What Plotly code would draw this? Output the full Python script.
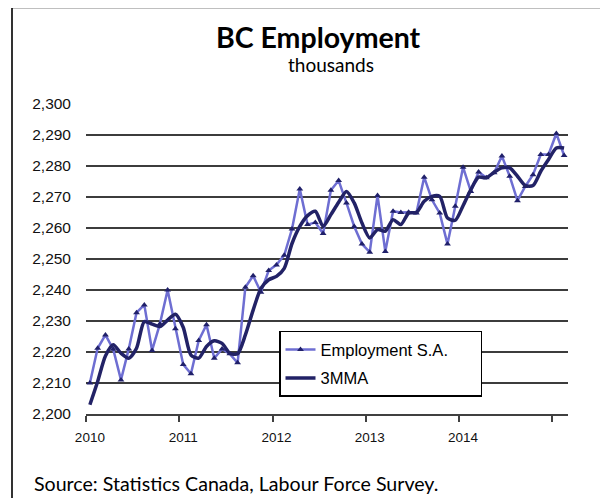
import plotly.graph_objects as go

# Monthly data, Jan 2010 - Feb 2015 (thousands)
year_labels = ["2010", "2011", "2012", "2013", "2014"]
employment = [
    2210.0, 2221.2, 2225.5, 2220.9, 2211.0, 2221.0, 2232.7, 2235.2, 2220.5, 2229.0, 2240.0, 2227.5,
    2216.0, 2213.0, 2223.7, 2228.8, 2218.0, 2221.0, 2219.4, 2216.5, 2240.9, 2244.6, 2239.3, 2246.3,
    2248.1, 2251.2, 2259.7, 2272.6, 2261.1, 2261.8, 2258.2, 2272.2, 2275.3, 2268.1, 2260.5, 2254.8,
    2252.2, 2270.5, 2252.4, 2265.4, 2265.0, 2265.1, 2264.8, 2276.4, 2269.1, 2264.8, 2254.8, 2267.0,
    2279.6, 2271.8, 2278.1, 2276.2, 2277.8, 2283.2, 2276.7, 2268.8, 2273.4, 2277.2, 2283.7, 2283.7,
    2290.5, 2283.4,
]
mma3 = [
    2203.0, 2210.5, 2218.7, 2222.3, 2219.6, 2218.0, 2221.2, 2229.8, 2229.0, 2228.2, 2230.3, 2232.2,
    2228.0, 2219.0, 2218.0, 2221.8, 2223.6, 2222.8, 2219.6, 2219.4, 2225.5, 2233.5, 2240.5, 2243.3,
    2244.4, 2247.0, 2255.0, 2260.5, 2264.0, 2265.4, 2260.5, 2264.3, 2268.3, 2271.8, 2268.1, 2261.6,
    2256.8, 2259.5, 2259.0, 2262.7, 2261.1, 2264.8, 2265.0, 2268.6, 2270.2, 2270.2, 2263.2, 2262.5,
    2267.2, 2272.4, 2276.4, 2276.2, 2278.0, 2279.4, 2279.4, 2276.7, 2273.7, 2273.7, 2278.3, 2282.1,
    2285.8, 2285.8,
]
y_ticks = list(range(2200, 2301, 10))

idx = list(range(len(employment)))
label_pos = [12 * k for k in range(len(year_labels))]
boundary_pos = [12 * k - 0.5 for k in range(len(year_labels) + 1)]

SANS = "Liberation Sans, Arial, sans-serif"
CAL = "Lato, Carlito, Calibri, sans-serif"

# page body has an 8px margin, so the figure is drawn 8px in from the top-left
PW, PH = 482, 309.5  # plot area size in px
fig = go.Figure()
fig.add_trace(go.Scatter(
    x=idx, y=employment, mode="lines+markers",
    name="Employment S.A.\u00a0\u00a0\u00a0\u00a0\u00a0\u00a0",
    line=dict(color="#6E6ED2", width=2.5),
    marker=dict(symbol="triangle-up", size=6, color="#20206A"),
    legendgroup="a",
))
fig.add_trace(go.Scatter(
    x=idx, y=mma3, mode="lines", name="3MMA",
    line=dict(color="#222266", width=3.5, shape="spline", smoothing=0.7),
    legendgroup="b",
))

fig.update_layout(
    width=600, height=490,
    margin=dict(l=78, r=40, t=96, b=84),
    paper_bgcolor="white", plot_bgcolor="white",
    showlegend=True,
    legend=dict(
        x=(279 - 86) / PW, y=(414 - 331) / PH, xanchor="left", yanchor="top",
        bgcolor="white", bordercolor="#000000", borderwidth=1.5,
        font=dict(family=SANS, size=16.5, color="#000"),
        tracegroupgap=4, itemwidth=30,
    ),
    xaxis=dict(
        range=[-0.5, len(employment) - 0.5],
        tickmode="array", tickvals=label_pos, ticktext=year_labels,
        ticks="", showgrid=False, zeroline=False,
        showline=True, linecolor="#404040", linewidth=1.5,
        tickfont=dict(family=SANS, size=13.5, color="#111"),
        ticklabelstandoff=10,
        minor=dict(tickmode="array", tickvals=boundary_pos, ticks="outside",
                   ticklen=6, tickwidth=1.5, tickcolor="#404040", showgrid=False),
    ),
    yaxis=dict(
        range=[2200, 2300],
        tickmode="array", tickvals=y_ticks, ticktext=[f"{v:,}" for v in y_ticks],
        showgrid=True, gridcolor="#3c3c3c", gridwidth=1.5,
        zeroline=False, showline=False, ticks="",
        tickfont=dict(family=SANS, size=15.5, color="#111"),
        ticklabelstandoff=14,
    ),
    shapes=[dict(type="rect", xref="paper", yref="paper",
                 x0=(12 - 86) / PW, x1=(601 - 86) / PW,
                 y0=(414 - 520) / PH, y1=(414 - 8) / PH,
                 line=dict(color="#000", width=1.6), layer="below")],
    annotations=[
        dict(text="<b>BC Employment</b>", xref="paper", yref="paper",
             x=(318.7 - 86) / PW, y=(414 - 38) / PH, xanchor="center", yanchor="middle",
             showarrow=False, font=dict(family=CAL, size=28.5, color="#000")),
        dict(text="thousands", xref="paper", yref="paper",
             x=(331 - 86) / PW, y=(414 - 65) / PH, xanchor="center", yanchor="middle",
             showarrow=False, font=dict(family=CAL, size=19, color="#000")),
        dict(text="Source: Statistics Canada, Labour Force Survey.", xref="paper", yref="paper",
             x=(32 - 86) / PW, y=(414 - 483) / PH, xanchor="left", yanchor="middle",
             showarrow=False, font=dict(family=CAL, size=19.6, color="#000")),
    ],
)

fig.write_html("out.html")
